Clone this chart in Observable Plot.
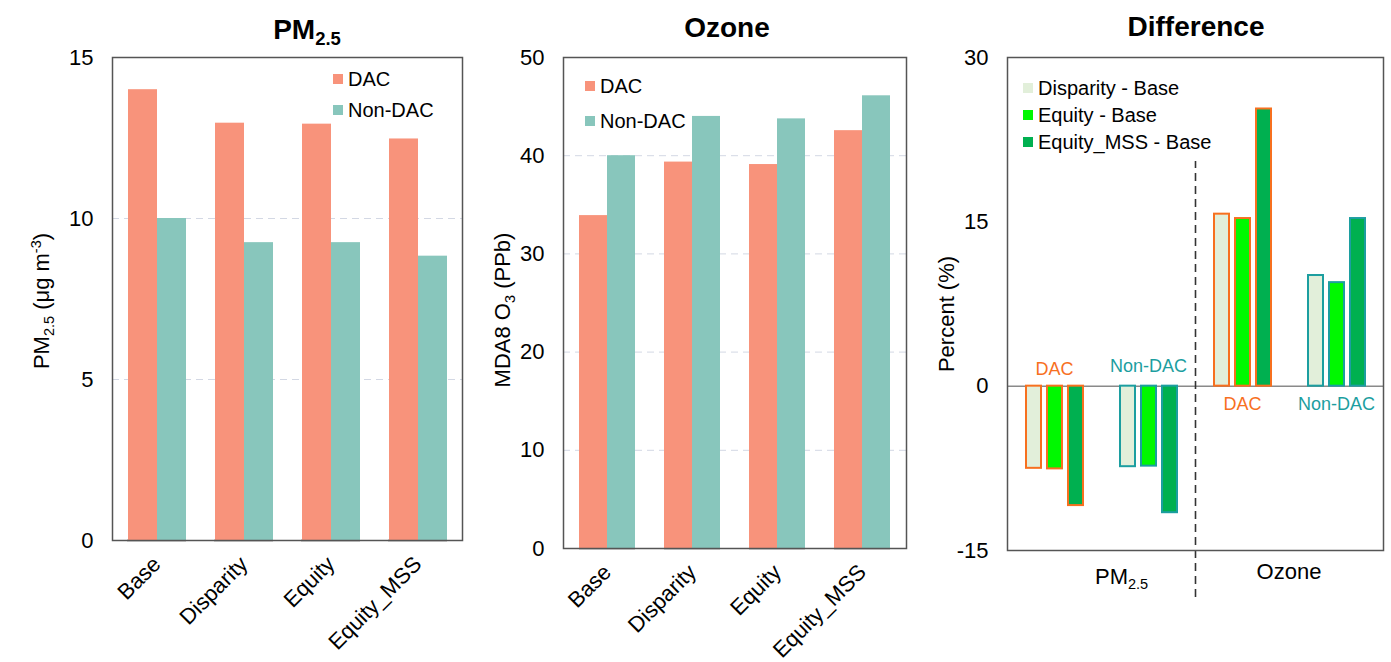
<!DOCTYPE html>
<html>
<head>
<meta charset="utf-8">
<script src="https://cdn.jsdelivr.net/npm/d3@7"></script>
<script src="https://cdn.jsdelivr.net/npm/@observablehq/plot@0.6"></script>
<style>
  body { margin: 0; background: #fff; font-family: "Liberation Sans", Arial, sans-serif; }
  #root { position: relative; width: 1391px; height: 662px; overflow: hidden; background: #fff; }
  .layer { position: absolute; top: 0; }
  .ov { position: absolute; white-space: nowrap; color: #000; line-height: 1; }
  .title { font-weight: bold; font-size: 28px; transform: translate(-50%, -50%); }
  .ylab { font-size: 22px; transform: translate(-50%, -50%) rotate(-90deg); }
  .sub { font-size: 0.66em; vertical-align: -0.32em; line-height: 0; }
  .sup { font-size: 0.66em; vertical-align: 0.55em; line-height: 0; }
  .leg { font-size: 20px; transform: translateY(-50%); display: flex; align-items: center; }
  .leg i { display: inline-block; width: 10px; height: 10px; margin-right: 5px; }
</style>
</head>
<body>
<div id="root"></div>
<script>
// ---------- data ----------
const scenarios = ["Base", "Disparity", "Equity", "Equity_MSS"];
const groups = ["DAC", "Non-DAC"];
const pm25DAC = [14.0, 12.96, 12.93, 12.47];
const pm25NonDAC = [10.0, 9.25, 9.25, 8.83];
const ozoneDAC = [33.9, 39.35, 39.1, 42.55];
const ozoneNonDAC = [40.0, 44.0, 43.75, 46.1];
const pm25Ticks = [0, 5, 10, 15];
const pm25Grid = [5, 10];
const ozoneTicks = [0, 10, 20, 30, 40, 50];
const ozoneGrid = [10, 20, 30, 40];

const diffLabels = ["Disparity - Base", "Equity - Base", "Equity_MSS - Base"];
const diffGroups = ["PM2.5 DAC", "PM2.5 Non-DAC", "Ozone DAC", "Ozone Non-DAC"];
const diffGroupKind = ["DAC", "Non-DAC", "DAC", "Non-DAC"];
const diffGroupPollutant = ["PM2.5", "PM2.5", "Ozone", "Ozone"];
const diffPM25DAC = [-7.5, -7.55, -10.9];
const diffPM25NonDAC = [-7.35, -7.3, -11.55];
const diffOzoneDAC = [15.7, 15.3, 25.3];
const diffOzoneNonDAC = [10.1, 9.45, 15.3];
const diffTicks = [-15, 0, 15, 30];

// ---------- styles ----------
const FONT = "'Liberation Sans', Arial, sans-serif";
const H = 662;
const dacFill = "#f8937b";
const nonFill = "#88c6bc";
const diffFills = ["#e2efda", "#00f800", "#00b050"];
const dacStroke = "#f7701f";
const nonStroke = "#1c9ea0";
const frameStroke = "#555";

// ---------- tables ----------
const pmRows = scenarios.flatMap((s, i) => [
  {scenario: s, group: "DAC", value: pm25DAC[i]},
  {scenario: s, group: "Non-DAC", value: pm25NonDAC[i]}
]);
const ozRows = scenarios.flatMap((s, i) => [
  {scenario: s, group: "DAC", value: ozoneDAC[i]},
  {scenario: s, group: "Non-DAC", value: ozoneNonDAC[i]}
]);
const diffSeries = [diffPM25DAC, diffPM25NonDAC, diffOzoneDAC, diffOzoneNonDAC];
const diffRows = diffGroups.flatMap((g, gi) => diffLabels.map((l, li) => ({
  group: g, kind: diffGroupKind[gi], pollutant: diffGroupPollutant[gi], label: l, value: diffSeries[gi][li]
})));
const diffLabelRows = diffGroups.map((g, gi) => ({group: g, kind: diffGroupKind[gi], pollutant: diffGroupPollutant[gi]}));

const root = document.getElementById("root");
function addLayer(svg, left) {
  svg.classList.add("layer");
  svg.style.left = left + "px";
  root.appendChild(svg);
}
function overlay(html, x, y, cls) {
  const d = document.createElement("div");
  d.className = "ov " + cls;
  d.style.left = x + "px";
  d.style.top = y + "px";
  d.innerHTML = html;
  root.appendChild(d);
  return d;
}
function legend(x, ys, labels, colors) {
  labels.forEach((l, i) => overlay(`<i style="background:${colors[i]}"></i>${l}`, x, ys[i], "leg"));
}
const baseStyle = {fontFamily: FONT, fontSize: "22px", background: "transparent", overflow: "visible", color: "#000"};

function background({width, ml, mr, mt, mb, domain, ticks, grid, extra = []}) {
  return Plot.plot({
    width, height: H, marginLeft: ml, marginRight: mr, marginTop: mt, marginBottom: mb,
    style: baseStyle,
    x: {domain: [0, 2], axis: null},
    y: {domain, axis: null},
    marks: [
      Plot.ruleY(grid, {stroke: "#d3d8e4", strokeDasharray: "7,5", strokeWidth: 1}),
      ...extra,
      Plot.frame({stroke: frameStroke, strokeWidth: 1.5}),
      Plot.axisY(ticks, {tickSize: 0, tickPadding: 19, label: null, fontSize: 22, tickFormat: d => String(d)})
    ]
  });
}

function bars({width, ml, mr, mt, mb, domain, rows, pi, po}) {
  return Plot.plot({
    width, height: H, marginLeft: ml, marginRight: mr, marginTop: mt, marginBottom: mb,
    style: baseStyle,
    fx: {domain: scenarios, paddingInner: pi, paddingOuter: po, label: null, axis: null},
    x: {domain: groups, padding: 0, axis: null},
    y: {domain, axis: null},
    color: {domain: groups, range: [dacFill, nonFill]},
    marks: [
      Plot.barY(rows, {fx: "scenario", x: "group", y: "value", fill: "group"}),
      Plot.ruleY([0], {stroke: frameStroke, strokeWidth: 1.5}),
      Plot.axisFx({anchor: "bottom", tickRotate: -45, tickSize: 0, tickPadding: 20, fontSize: 22, label: null})
    ]
  });
}

// ---------- panel 1: PM2.5 ----------
const p1 = {width: 470, ml: 112, mr: 8, mt: 57, mb: 122, domain: [0, 15]};
addLayer(background({...p1, ticks: pm25Ticks, grid: pm25Grid}), 0);
addLayer(bars({...p1, rows: pmRows, pi: 0.32, po: 0.17}), 0);

// ---------- panel 2: Ozone ----------
const p2 = {width: 440, ml: 93, mr: 4, mt: 57, mb: 114, domain: [0, 50]};
addLayer(background({...p2, ticks: ozoneTicks, grid: ozoneGrid}), 470);
addLayer(bars({...p2, rows: ozRows, pi: 0.34, po: 0.175}), 470);

// ---------- panel 3: Difference ----------
const p3 = {width: 481, ml: 97, mr: 8, mt: 57, mb: 112, domain: [-15, 30]};
addLayer(background({...p3, ticks: diffTicks, grid: [], extra: [
  Plot.ruleY([0], {stroke: "#8a8a8a", strokeWidth: 1.5}),
  Plot.ruleX([1], {y1: -19.3, y2: 20.5, stroke: "#333", strokeWidth: 1.6, strokeDasharray: "8,5"})
]}), 910);

const textOpts = {fx: "group", y: 0, text: "kind", fontSize: 18, fontFamily: FONT};
addLayer(Plot.plot({
  width: p3.width, height: H, marginLeft: p3.ml, marginRight: p3.mr, marginTop: p3.mt, marginBottom: p3.mb,
  style: baseStyle,
  fx: {domain: diffGroups, paddingInner: 0.383, paddingOuter: 0.19, axis: null},
  x: {domain: diffLabels, paddingInner: 0.3, paddingOuter: 0, axis: null},
  y: {domain: p3.domain, axis: null},
  color: {domain: diffLabels, range: diffFills},
  marks: [
    Plot.barY(diffRows.filter(d => d.kind === "DAC"), {fx: "group", x: "label", y: "value", fill: "label", stroke: dacStroke, strokeWidth: 2}),
    Plot.barY(diffRows.filter(d => d.kind === "Non-DAC"), {fx: "group", x: "label", y: "value", fill: "label", stroke: nonStroke, strokeWidth: 2}),
    Plot.text(diffLabelRows.filter(d => d.pollutant === "PM2.5" && d.kind === "DAC"), {...textOpts, dy: -17, fill: dacStroke}),
    Plot.text(diffLabelRows.filter(d => d.pollutant === "PM2.5" && d.kind === "Non-DAC"), {...textOpts, dy: -20, fill: nonStroke}),
    Plot.text(diffLabelRows.filter(d => d.pollutant === "Ozone" && d.kind === "DAC"), {...textOpts, dy: 18, fill: dacStroke}),
    Plot.text(diffLabelRows.filter(d => d.pollutant === "Ozone" && d.kind === "Non-DAC"), {...textOpts, dy: 18, fill: nonStroke})
  ]
}), 910);

// ---------- text overlays ----------
overlay('PM<span class="sub">2.5</span>', 307, 30, "title");
overlay('Ozone', 727, 28, "title");
overlay('Difference', 1196, 27, "title");

overlay('PM<span class="sub">2.5</span> (μg m<span class="sup">-3</span>)', 42, 301, "ylab");
overlay('MDA8 O<span class="sub">3</span> (PPb)', 503, 310, "ylab");
overlay('Percent (%)', 947, 314, "ylab");

legend(333, [79, 110], groups, [dacFill, nonFill]);
legend(585, [86, 121], groups, [dacFill, nonFill]);
legend(1023, [88, 115, 142], diffLabels, diffFills);

const pmLab = overlay('PM<span class="sub">2.5</span>', 1095, 577, "");
pmLab.style.fontSize = "22px"; pmLab.style.transform = "translateY(-50%)";
const ozLab = overlay('Ozone', 1289, 572, "");
ozLab.style.fontSize = "22px"; ozLab.style.transform = "translate(-50%,-50%)";
</script>
</body>
</html>
